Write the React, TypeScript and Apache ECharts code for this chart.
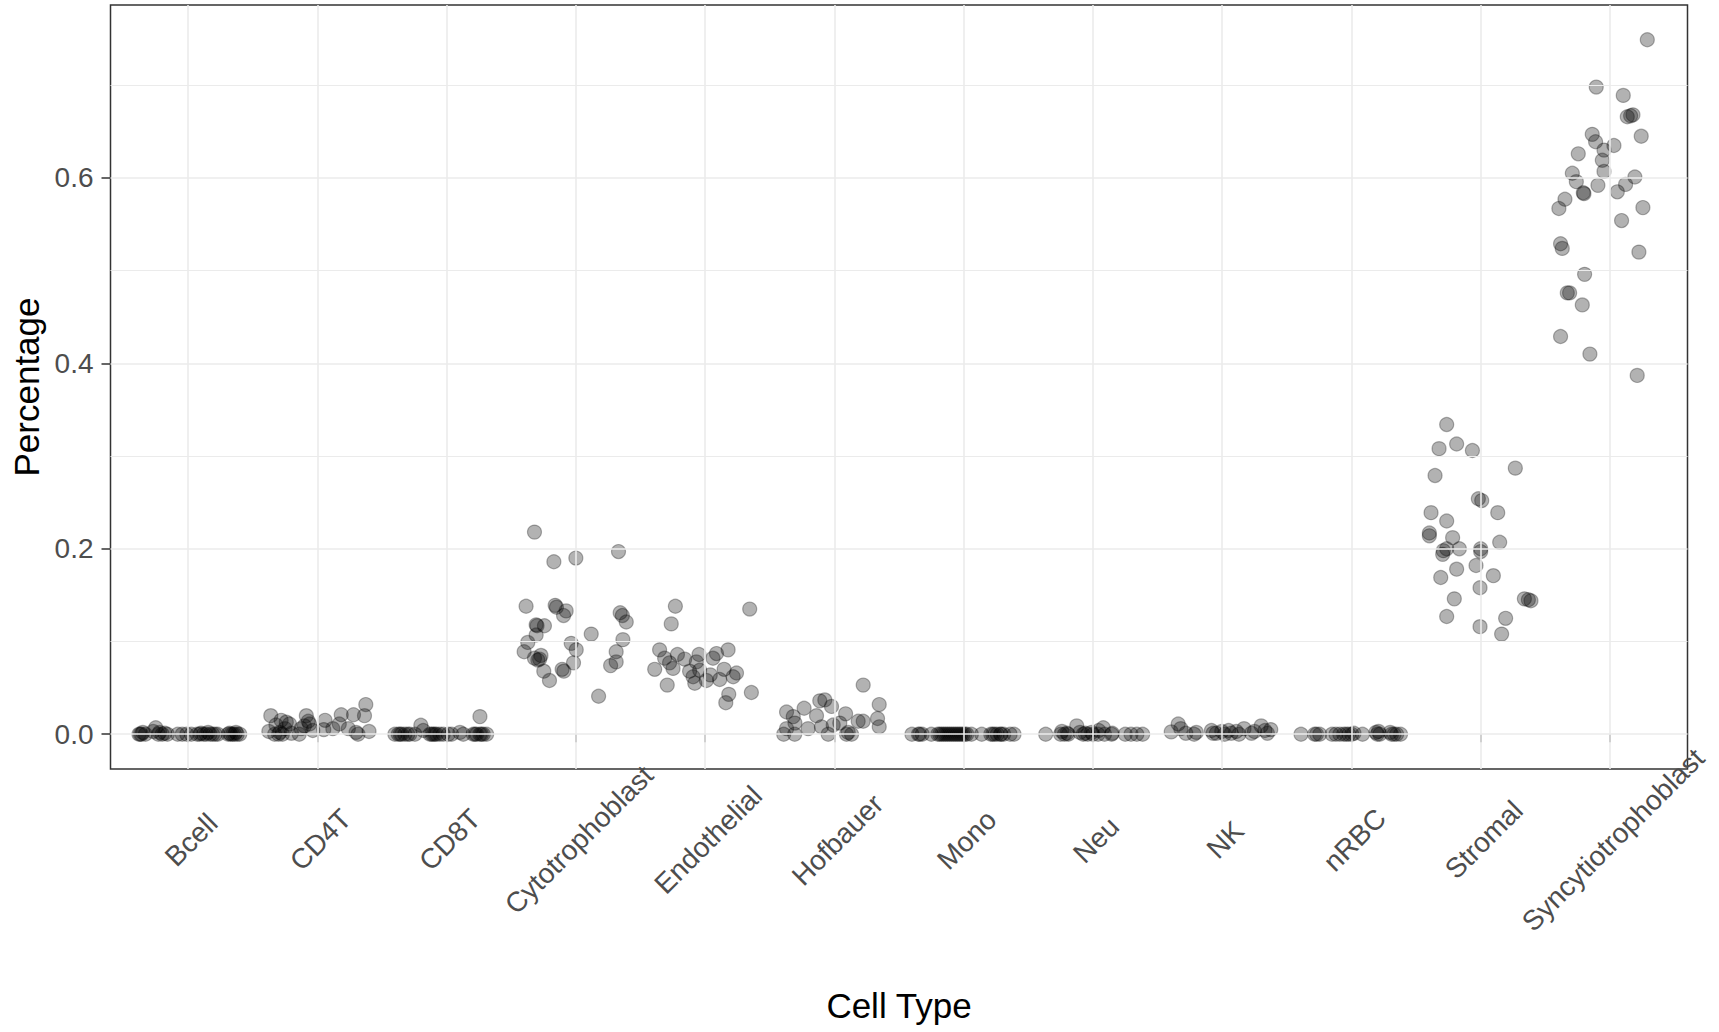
import React, { useEffect, useRef } from "react";
import * as echarts from "echarts";

const categories = [
  "Bcell", "CD4T", "CD8T", "Cytotrophoblast", "Endothelial", "Hofbauer",
  "Mono", "Neu", "NK", "nRBC", "Stromal", "Syncytiotrophoblast",
];

const yTickValues = [0, 0.2, 0.4, 0.6];
const yMinorValues = [0.1, 0.3, 0.5, 0.7];

// each entry: [jitter offset from category centre, percentage]
const bcell = [
  [-0.38, 0], [-0.37, 0], [-0.36, 0], [-0.35, 0.002], [-0.33, 0], [-0.27, 0.003], [-0.25, 0.007],
  [-0.23, 0], [-0.22, 0.002], [-0.2, 0], [-0.18, 0.001], [-0.16, 0], [-0.08, 0], [-0.045, 0],
  [-0.01, 0], [0.025, 0], [0.07, 0], [0.09, 0], [0.1, 0.001], [0.12, 0], [0.14, 0], [0.155, 0.002],
  [0.17, 0], [0.19, 0], [0.21, 0], [0.23, 0], [0.31, 0], [0.32, 0.001], [0.33, 0], [0.345, 0],
  [0.36, 0], [0.37, 0.002], [0.38, 0], [0.4, 0],
];
const cd4t = [
  [-0.36, 0.02], [-0.375, 0.003], [-0.33, 0], [-0.32, 0.01], [-0.3, 0], [-0.29, 0.002], [-0.28, 0.015],
  [-0.27, 0], [-0.25, 0.006], [-0.24, 0.013], [-0.215, 0.011], [-0.2, 0.001], [-0.14, 0], [-0.125, 0.006],
  [-0.1, 0.009], [-0.085, 0.02], [-0.07, 0.014], [-0.06, 0.011], [-0.035, 0.004], [0.05, 0.005],
  [0.06, 0.015], [0.12, 0.006], [0.17, 0.011], [0.185, 0.021], [0.24, 0.006], [0.28, 0.021],
  [0.3, 0.002], [0.315, 0], [0.365, 0.02], [0.375, 0.032], [0.4, 0.003],
];
const cd8t = [
  [-0.4, 0], [-0.374, 0], [-0.36, 0], [-0.348, 0], [-0.323, 0], [-0.3, 0], [-0.284, 0], [-0.245, 0],
  [-0.199, 0.0097], [-0.18, 0.004], [-0.129, 0], [-0.115, 0], [-0.103, 0], [-0.09, 0], [-0.077, 0],
  [-0.052, 0], [-0.026, 0], [0.013, 0], [0.039, 0], [0.103, 0.002], [0.129, 0], [0.206, 0],
  [0.22, 0], [0.232, 0], [0.258, 0.019], [0.258, 0], [0.27, 0], [0.284, 0], [0.31, 0],
];
const cytotrophoblast = [
  [-0.32, 0.218], [-0.17, 0.186], [0.0, 0.19], [0.33, 0.197], [-0.385, 0.138], [-0.16, 0.139],
  [-0.15, 0.137], [-0.075, 0.133], [-0.095, 0.128], [0.343, 0.131], [0.36, 0.128], [0.39, 0.121],
  [-0.307, 0.118], [-0.3, 0.117], [-0.243, 0.117], [0.119, 0.108], [-0.307, 0.107], [-0.372, 0.099],
  [0.364, 0.102], [-0.036, 0.098], [0.003, 0.091], [-0.4, 0.089], [0.312, 0.089], [-0.27, 0.085],
  [-0.32, 0.082], [-0.294, 0.08], [-0.28, 0.081], [0.312, 0.078], [-0.018, 0.077], [0.269, 0.074],
  [-0.106, 0.07], [-0.093, 0.068], [-0.248, 0.068], [-0.204, 0.058], [0.176, 0.041],
];
const endothelial = [
  [-0.23, 0.138], [0.345, 0.135], [-0.262, 0.119], [-0.352, 0.091], [0.178, 0.091], [-0.047, 0.086],
  [-0.214, 0.086], [0.088, 0.087], [-0.313, 0.082], [-0.275, 0.077], [-0.158, 0.081], [-0.068, 0.078],
  [0.061, 0.082], [-0.248, 0.071], [-0.39, 0.07], [-0.12, 0.068], [-0.042, 0.069], [0.147, 0.07],
  [0.04, 0.064], [0.243, 0.066], [0.217, 0.062], [-0.093, 0.062], [0.01, 0.058], [0.113, 0.059],
  [-0.08, 0.055], [-0.293, 0.053], [0.183, 0.043], [0.358, 0.045], [0.16, 0.034],
];
const hofbauer = [
  [0.223, 0.053], [0.347, 0.032], [-0.074, 0.037], [-0.113, 0.036], [-0.022, 0.03], [-0.234, 0.028],
  [-0.37, 0.024], [-0.318, 0.019], [-0.138, 0.02], [0.087, 0.022], [-0.305, 0.012], [-0.37, 0.006],
  [-0.203, 0.006], [-0.1, 0.008], [-0.009, 0.01], [0.042, 0.012], [0.184, 0.014], [0.223, 0.014],
  [0.334, 0.017], [0.347, 0.008], [-0.392, 0], [-0.307, 0], [-0.048, 0], [0.094, 0], [0.133, 0],
  [0.107, 0.002],
];
const mono = [
  [-0.4, 0], [-0.35, 0], [-0.34, 0], [-0.32, 0], [-0.25, 0], [-0.2, 0], [-0.185, 0], [-0.17, 0],
  [-0.155, 0], [-0.14, 0], [-0.125, 0], [-0.11, 0], [-0.095, 0], [-0.08, 0], [-0.065, 0], [-0.05, 0],
  [-0.035, 0], [-0.02, 0], [-0.005, 0], [0.01, 0], [0.025, 0], [0.06, 0], [0.14, 0], [0.21, 0],
  [0.225, 0], [0.24, 0], [0.26, 0], [0.285, 0], [0.29, 0], [0.31, 0], [0.36, 0], [0.39, 0],
];
const neu = [
  [-0.365, 0], [-0.25, 0], [-0.24, 0.003], [-0.22, 0], [-0.2, 0.001], [-0.19, 0], [-0.125, 0.009],
  [-0.1, 0.002], [-0.075, 0], [-0.06, 0.001], [-0.04, 0], [-0.01, 0.002], [0, 0], [0.04, 0],
  [0.045, 0.004], [0.08, 0.007], [0.09, 0], [0.145, 0], [0.15, 0.001], [0.25, 0], [0.295, 0],
  [0.34, 0], [0.385, 0],
];
const nk = [
  [-0.394, 0.0025], [-0.34, 0.011], [-0.32, 0.006], [-0.281, 0.001], [-0.217, 0], [-0.2, 0.002],
  [-0.083, 0.004], [-0.07, 0.001], [-0.045, 0.001], [-0.003, 0.003], [0.02, 0], [0.05, 0.004],
  [0.07, 0.001], [0.109, 0.003], [0.13, 0], [0.169, 0.006], [0.227, 0.001], [0.25, 0.003],
  [0.302, 0.009], [0.331, 0.004], [0.35, 0.001], [0.376, 0.005],
];
const nrbc = [
  [-0.39, 0], [-0.285, 0], [-0.27, 0], [-0.245, 0], [-0.15, 0], [-0.12, 0], [-0.09, 0], [-0.06, 0],
  [-0.04, 0], [-0.02, 0], [0.003, 0], [0.02, 0.001], [0.086, 0], [0.19, 0.002], [0.2, 0],
  [0.21, 0.003], [0.22, 0], [0.3, 0.002], [0.31, 0], [0.33, 0], [0.35, 0], [0.38, 0],
];
const stromal = [
  [-0.263, 0.334], [-0.322, 0.308], [-0.186, 0.313], [-0.064, 0.306], [0.268, 0.287], [-0.353, 0.279],
  [-0.018, 0.254], [0.008, 0.252], [0.132, 0.239], [-0.384, 0.239], [-0.263, 0.23], [-0.397, 0.217],
  [-0.397, 0.214], [-0.217, 0.212], [0.147, 0.207], [-0.263, 0.2], [-0.165, 0.2], [-0.289, 0.198],
  [-0.294, 0.194], [0.0, 0.2], [0.0, 0.197], [-0.036, 0.182], [-0.186, 0.178], [-0.309, 0.169],
  [0.098, 0.171], [-0.005, 0.158], [-0.204, 0.146], [0.338, 0.146], [0.369, 0.145], [0.389, 0.144],
  [-0.263, 0.127], [0.193, 0.125], [-0.005, 0.116], [0.162, 0.108],
];
const syncytiotrophoblast = [
  [0.289, 0.749], [-0.106, 0.698], [0.103, 0.689], [0.134, 0.666], [0.178, 0.668], [0.16, 0.667],
  [0.242, 0.645], [-0.137, 0.647], [-0.111, 0.639], [0.031, 0.635], [-0.046, 0.63], [-0.245, 0.626],
  [-0.059, 0.619], [-0.046, 0.607], [-0.291, 0.605], [-0.26, 0.596], [-0.093, 0.592], [0.193, 0.601],
  [0.121, 0.593], [0.057, 0.585], [-0.206, 0.584], [-0.201, 0.583], [-0.348, 0.577], [-0.395, 0.567],
  [0.255, 0.568], [0.09, 0.554], [-0.382, 0.529], [-0.369, 0.524], [0.224, 0.52], [-0.196, 0.496],
  [-0.33, 0.476], [-0.312, 0.476], [-0.214, 0.463], [-0.382, 0.429], [-0.155, 0.41], [0.211, 0.387],
];

const groups = [
  bcell, cd4t, cd8t, cytotrophoblast, endothelial, hofbauer,
  mono, neu, nk, nrbc, stromal, syncytiotrophoblast,
];

const FONT = "Liberation Sans, Arial, sans-serif";

export default function App() {
  const ref = useRef<HTMLDivElement>(null);
  useEffect(() => {
    if (!ref.current) return;
    const chart = echarts.init(ref.current, null, { renderer: "svg" });
    const points: number[][] = [];
    groups.forEach((g, i) => g.forEach(([j, v]) => points.push([i + 1 + j, v])));
    const catPositions = categories.map((_, i) => i + 1);
    const gridColor = "#EBEBEB";
    const gridLines = [
      ...catPositions.map((x) => ({ xAxis: x, lineStyle: { color: gridColor, width: 1.6, type: "solid" } })),
      ...yTickValues.map((y) => ({ yAxis: y, lineStyle: { color: gridColor, width: 1.6, type: "solid" } })),
      ...yMinorValues.map((y) => ({ yAxis: y, lineStyle: { color: gridColor, width: 1.2, type: "solid" } })),
    ];
    chart.setOption({
      animation: false,
      backgroundColor: "#ffffff",
      textStyle: { fontFamily: FONT },
      grid: {
        left: 110.5, right: 31.5, top: 5, bottom: 263,
        show: true, borderColor: "#333333", borderWidth: 1.5, backgroundColor: "transparent",
      },
      xAxis: {
        type: "value", min: 0.4, max: 12.6,
        axisLine: { show: false },
        splitLine: { show: false },
        axisTick: {
          show: true, customValues: catPositions, length: 8,
          lineStyle: { color: "#333333", width: 1.5 },
        },
        axisLabel: {
          customValues: catPositions,
          formatter: (v: number) => categories[Math.round(v) - 1],
          rotate: 45, align: "center", verticalAlign: "middle",
          margin: 74, padding: [9, 0, 0, 9],
          fontSize: 28, color: "#4D4D4D", fontFamily: FONT,
        },
        name: "Cell Type", nameLocation: "middle", nameGap: 219,
        nameTextStyle: { fontSize: 35, color: "#000000", fontFamily: FONT },
      },
      yAxis: {
        type: "value", min: -0.0375, max: 0.7865,
        axisLine: { show: false },
        splitLine: { show: false },
        axisTick: {
          show: true, customValues: yTickValues, length: 9,
          lineStyle: { color: "#333333", width: 1.5 },
        },
        axisLabel: {
          customValues: yTickValues,
          formatter: (v: number) => v.toFixed(1),
          margin: 17, fontSize: 28, color: "#4D4D4D", fontFamily: FONT,
        },
        name: "Percentage", nameLocation: "middle", nameGap: 62,
        nameTextStyle: { fontSize: 35, color: "#000000", fontFamily: FONT },
      },
      series: [
        {
          type: "scatter", data: [], z: 1, silent: true,
          markLine: {
            silent: true, symbol: ["none", "none"], label: { show: false },
            animation: false, data: gridLines,
          },
        },
        {
          type: "scatter", data: points, z: 3, symbol: "circle", symbolSize: 14,
          itemStyle: { color: "rgba(0,0,0,0.3)", borderColor: "rgba(0,0,0,0.3)", borderWidth: 1.2, opacity: 1 },
        },
      ],
    });
    return () => chart.dispose();
  }, []);
  return (
    <div
      ref={ref}
      style={{ position: "absolute", left: 0, top: 0, width: 1719, height: 1032, background: "#fff" }}
    />
  );
}
